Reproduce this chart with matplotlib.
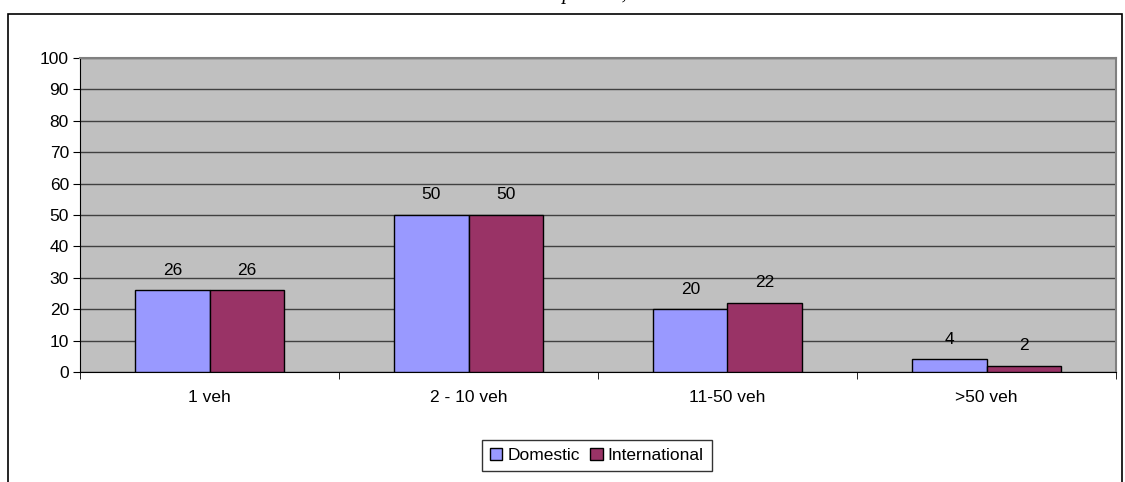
import matplotlib
matplotlib.use("Agg")
import matplotlib.pyplot as plt
import numpy as np
from matplotlib.patches import Rectangle

# data
categories = ["1 veh", "2 - 10 veh", "11-50 veh", ">50 veh"]
domestic = [26, 50, 20, 4]
international = [26, 50, 22, 2]
series_names = ["Domestic", "International"]

plt.rcParams['font.family'] = ['Liberation Sans', 'DejaVu Sans']
FS = 12.5

W, H = 1125, 482
fig = plt.figure(figsize=(W / 100, H / 100), dpi=100)

# outer chart frame (top part of the border, bottom runs off the image)
fig.patches.append(Rectangle((8 / W, -0.05), 1114 / W, 1.05 - 14 / H,
                             transform=fig.transFigure, fill=False,
                             edgecolor='black', linewidth=1.2))

# title sits above the crop, only its descenders show (as in the source)
fig.text(606 / W, 1 + 1 / H, "shipments, 2000", ha='center', va='baseline',
         fontsize=15, family='Liberation Serif', style='italic')

ax = fig.add_axes([80 / W, 1 - 372 / H, (1116 - 80) / W, (372 - 58) / H])
ax.set_facecolor('#c0c0c0')

x = np.arange(len(categories))
bw = 0.286
b1 = ax.bar(x - bw / 2, domestic, bw, color='#9999ff', edgecolor='black',
            linewidth=1, label=series_names[0], zorder=3)
b2 = ax.bar(x + bw / 2, international, bw, color='#993366', edgecolor='black',
            linewidth=1, label=series_names[1], zorder=3)

for bars, vals in ((b1, domestic), (b2, international)):
    for r, v in zip(bars, vals):
        ax.text(r.get_x() + r.get_width() / 2, v + 4, str(v), ha='center',
                va='bottom', fontsize=FS, zorder=4)

ax.set_xlim(-0.5, len(categories) - 0.5)
ax.set_ylim(0, 100)
ax.set_yticks(range(0, 101, 10))
ax.yaxis.grid(True, color='#404040', linewidth=1)
ax.set_axisbelow(True)

ax.set_xticks(x)
ax.set_xticklabels(categories, fontsize=FS)
ax.tick_params(axis='x', length=0, pad=13)
ax.set_xticks(np.arange(-0.5, len(categories), 1), minor=True)
ax.tick_params(axis='x', which='minor', length=5, color='black', direction='out')
ax.tick_params(axis='y', length=5, direction='out', labelsize=FS, pad=3)

for s in ('top', 'right'):
    ax.spines[s].set_color('#808080')
    ax.spines[s].set_linewidth(1.5)
ax.spines['left'].set_color('black')
ax.spines['bottom'].set_color('black')

leg = ax.legend(loc='upper center', bbox_to_anchor=((597 - 80) / (1116 - 80), -0.19),
                ncol=2, fontsize=FS, frameon=True, fancybox=False,
                edgecolor='black', handlelength=0.7, handleheight=0.7,
                handletextpad=0.3, columnspacing=0.6, borderpad=0.45)
leg.get_frame().set_linewidth(1)

fig.savefig("out.png", dpi=100)
